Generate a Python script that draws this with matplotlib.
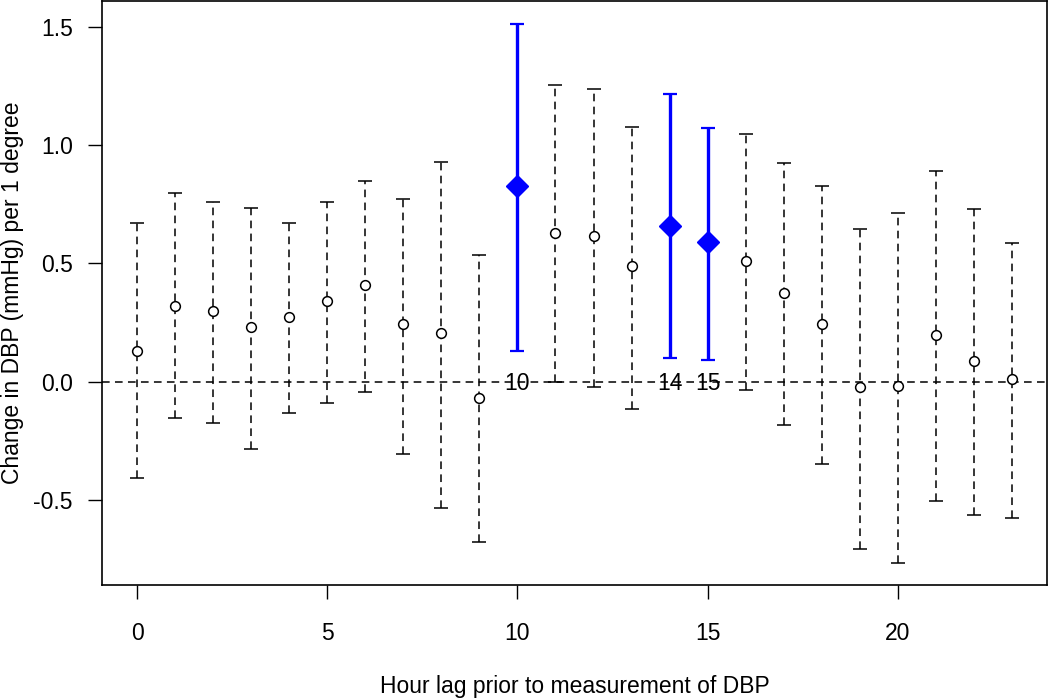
#!/usr/bin/env python3

import numpy as np
import matplotlib.pyplot as plt

# estimates and 95% CI per hour lag
lag = list(range(24))
est = [0.13, 0.32, 0.30, 0.23, 0.275, 0.34, 0.41, 0.245, 0.205, -0.07,
       0.83, 0.63, 0.615, 0.49, 0.66, 0.59, 0.51, 0.375, 0.245, -0.025,
       -0.02, 0.195, 0.085, 0.01]
lower = [-0.41, -0.155, -0.175, -0.285, -0.135, -0.09, -0.045, -0.305, -0.535, -0.68,
         0.13, 0.0, -0.025, -0.115, 0.10, 0.09, -0.035, -0.185, -0.35, -0.71,
         -0.77, -0.505, -0.565, -0.58]
upper = [0.67, 0.80, 0.76, 0.735, 0.67, 0.76, 0.85, 0.775, 0.93, 0.535,
         1.515, 1.255, 1.24, 1.08, 1.22, 1.075, 1.05, 0.925, 0.83, 0.645,
         0.715, 0.89, 0.73, 0.585]
signif = [10, 14, 15]

x_ticks = [0, 5, 10, 15, 20]
y_ticks = [-0.5, 0.0, 0.5, 1.0, 1.5]

plt.rcParams['font.family'] = ['Liberation Sans', 'DejaVu Sans']
FS = 16.5
DASH = (0, (5, 3.5))

fig = plt.figure(figsize=(10.5, 7), dpi=100)
ax = fig.add_axes([102 / 1050, 1 - 585 / 700, 945 / 1050, 584 / 700])

lag = np.array(lag)
est = np.array(est)
lower = np.array(lower)
upper = np.array(upper)
sig = np.isin(lag, signif)
ns = ~sig

ax.axhline(0, color='black', lw=1.1, ls=DASH, zorder=1)

# non-significant lags: dashed bars, open circles
eb = ax.errorbar(lag[ns], est[ns],
                 yerr=[est[ns] - lower[ns], upper[ns] - est[ns]],
                 fmt='o', ms=7, mfc='white', mec='black', mew=1.1,
                 ecolor='black', elinewidth=1.1, capsize=4.7, capthick=1.3,
                 zorder=2)
eb[2][0].set_linestyle(DASH)

# significant lags: solid blue bars, filled diamonds
ax.errorbar(lag[sig], est[sig],
            yerr=[est[sig] - lower[sig], upper[sig] - est[sig]],
            fmt='D', ms=11, mfc='blue', mec='blue',
            ecolor='blue', elinewidth=2.4, capsize=4.7, capthick=1.6,
            zorder=3)

for s in signif:
    ax.text(s, -0.01, str(s), ha='center', va='center', fontsize=FS, zorder=4)

ax.set_xlim(-0.92, 23.92)
ax.set_ylim(-0.862, 1.612)
ax.set_xticks(x_ticks)
ax.set_yticks(y_ticks)
ax.set_yticklabels([f"{v:.1f}" for v in y_ticks])
ax.tick_params(axis='both', direction='out', length=10, width=1.0,
               labelsize=FS)
ax.tick_params(axis='x', pad=17)
ax.tick_params(axis='y', pad=11)
for sp in ax.spines.values():
    sp.set_linewidth(1.2)

ax.set_xlabel('Hour lag prior to measurement of DBP', fontsize=FS)
ax.xaxis.label.set_va('center')
ax.xaxis.set_label_coords(0.5, (585 - 687) / 584)
ax.set_ylabel('Change in DBP (mmHg) per 1 degree', fontsize=FS)
ax.yaxis.label.set(rotation_mode='default', va='center', ha='center')
ax.yaxis.set_label_coords((13 - 102) / 945, 0.5)

plt.savefig('out.png')
